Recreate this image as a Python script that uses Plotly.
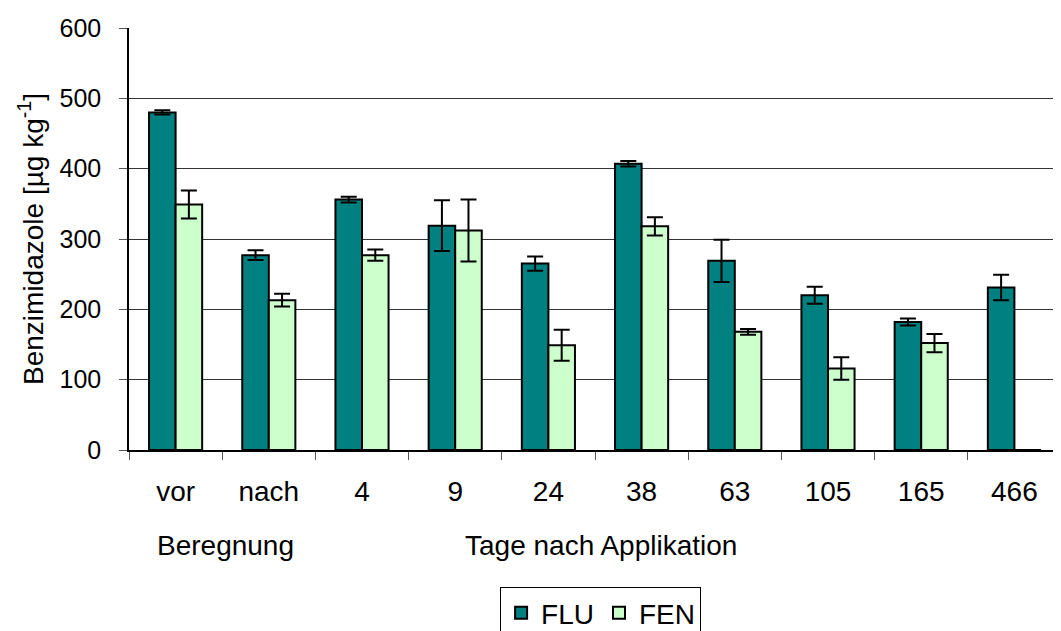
import plotly.graph_objects as go

# Probenahme-Zeitpunkte
categories = ["vor", "nach", "4", "9", "24", "38", "63", "105", "165", "466"]

# Gehalte [µg/kg] und Standardabweichungen
flu = [480, 277, 356, 319, 265, 407, 269, 220, 182, 231]
flu_err = [3, 7, 4, 36, 10, 4, 30, 12, 5, 18]
fen = [349, 213, 277, 312, 149, 318, 168, 116, 152, 0]
fen_err = [20, 9, 8, 44, 22, 13, 4, 16, 13, 0]

font_family = "Liberation Sans, Arial, sans-serif"

fig = go.Figure()
fig.add_trace(go.Bar(
    x=categories, y=flu, name="FLU",
    marker=dict(color="#008080", line=dict(color="black", width=2)),
    error_y=dict(type="data", array=flu_err, color="black", thickness=2, width=8),
))
fig.add_trace(go.Bar(
    x=categories, y=fen, name="FEN",
    marker=dict(color="#CCFFCC", line=dict(color="black", width=2)),
    error_y=dict(type="data", array=fen_err, color="black", thickness=2, width=8),
))

# page body has an 8px margin, so the figure is shifted by 8px (bottom gets cropped like the reference)
fig.update_layout(
    width=1053, height=631,
    margin=dict(l=121, r=0, t=20, b=188),
    paper_bgcolor="white", plot_bgcolor="white",
    font=dict(family=font_family, size=28, color="black"),
    barmode="group", bargap=0.43, bargroupgap=0,
    showlegend=True,
    legend=dict(
        orientation="h", x=0.506, xanchor="center", y=-0.326, yanchor="top",
        bordercolor="black", borderwidth=1, bgcolor="white",
        font=dict(size=28), itemwidth=30, tracegroupgap=0,
    ),
    annotations=[
        dict(text="Beregnung", x=0.104, y=-0.226, xref="paper", yref="paper",
             showarrow=False, font=dict(size=28), xanchor="center", yanchor="middle"),
        dict(text="Tage nach Applikation", x=0.506, y=-0.226, xref="paper", yref="paper",
             showarrow=False, font=dict(size=28), xanchor="center", yanchor="middle"),
    ],
)

fig.update_xaxes(
    type="category", showline=True, linecolor="black", linewidth=1.5,
    ticks="outside", tickson="boundaries", ticklen=8, tickcolor="#555555",
    ticklabelstandoff=16, showgrid=False, tickfont=dict(size=28),
)
fig.update_yaxes(
    range=[0, 600], dtick=100, showline=True, linecolor="black", linewidth=1.5,
    ticks="outside", ticklen=8, tickcolor="#555555", tickfont=dict(size=25),
    ticklabelstandoff=13,
    showgrid=True, gridcolor="#333333", gridwidth=1, zeroline=False,
    title=dict(text="Benzimidazole [µg kg<sup>-1</sup>]", standoff=8, font=dict(size=28)),
)

fig.write_html("out.html")
